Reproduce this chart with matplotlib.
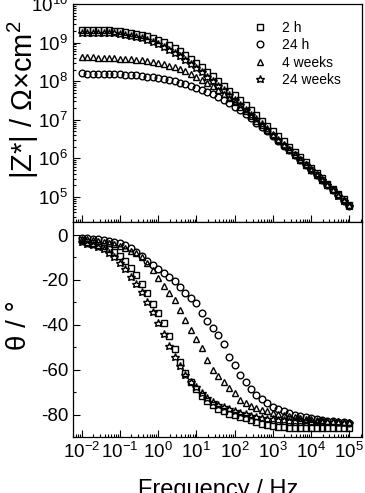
import matplotlib
matplotlib.use("Agg")
import matplotlib.pyplot as plt
from matplotlib.ticker import LogLocator, MultipleLocator, NullFormatter
import numpy as np

plt.rcParams['font.family'] = ['Liberation Sans', 'DejaVu Sans']
plt.rcParams['mathtext.fontset'] = 'custom'
plt.rcParams['mathtext.rm'] = 'Liberation Sans'
plt.rcParams['mathtext.it'] = 'Liberation Sans:italic'
plt.rcParams['mathtext.bf'] = 'Liberation Sans:bold'
plt.rcParams['axes.unicode_minus'] = False

# Frequency / Hz (7 points per decade)
freq = [0.01, 0.01389, 0.01931, 0.02683, 0.03728, 0.05179, 0.07197,
        0.1, 0.1389, 0.1931, 0.2683, 0.3728, 0.5179, 0.7197,
        1.0, 1.389, 1.931, 2.683, 3.728, 5.179, 7.197,
        10.0, 13.89, 19.31, 26.83, 37.28, 51.79, 71.97,
        100.0, 138.9, 193.1, 268.3, 372.8, 517.9, 719.7,
        1000.0, 1389.0, 1931.0, 2683.0, 3728.0, 5179.0, 7197.0,
        1.0e4, 1.389e4, 1.931e4, 2.683e4, 3.728e4, 5.179e4, 7.197e4,
        1.0e5]

labels = ["2 h", "24 h", "4 weeks", "24 weeks"]

# log10(|Z*| / Ohm cm^2)
logz_2h = [9.320, 9.325, 9.330, 9.330, 9.327, 9.318, 9.307, 9.293, 9.276, 9.255,
           9.230, 9.198, 9.161, 9.116, 9.064, 9.005, 8.939, 8.862, 8.777, 8.683,
           8.583, 8.476, 8.364, 8.249, 8.130, 8.008, 7.884, 7.759, 7.632, 7.504,
           7.375, 7.245, 7.113, 6.980, 6.846, 6.711, 6.576, 6.440, 6.304, 6.168,
           6.032, 5.895, 5.758, 5.621, 5.485, 5.348, 5.211, 5.075, 4.938, 4.802]
logz_24h = [8.200, 8.198, 8.195, 8.192, 8.189, 8.185, 8.181, 8.176, 8.170, 8.161,
            8.151, 8.137, 8.120, 8.101, 8.078, 8.052, 8.024, 7.993, 7.958, 7.919,
            7.876, 7.830, 7.778, 7.720, 7.657, 7.589, 7.515, 7.433, 7.344, 7.249,
            7.147, 7.040, 6.929, 6.815, 6.698, 6.577, 6.455, 6.331, 6.206, 6.079,
            5.952, 5.823, 5.694, 5.564, 5.433, 5.302, 5.171, 5.039, 4.906, 4.774]
logz_4w = [8.620, 8.617, 8.614, 8.610, 8.606, 8.601, 8.595, 8.588, 8.579, 8.569,
           8.557, 8.543, 8.525, 8.503, 8.475, 8.442, 8.403, 8.360, 8.310, 8.254,
           8.190, 8.120, 8.043, 7.959, 7.868, 7.770, 7.668, 7.562, 7.452, 7.338,
           7.220, 7.100, 6.978, 6.855, 6.731, 6.606, 6.480, 6.353, 6.225, 6.097,
           5.968, 5.839, 5.709, 5.578, 5.447, 5.316, 5.184, 5.052, 4.920, 4.788]
logz_24w = [9.250, 9.250, 9.250, 9.250, 9.250, 9.250, 9.245, 9.228, 9.205, 9.179,
            9.147, 9.109, 9.065, 9.014, 8.955, 8.890, 8.816, 8.733, 8.644, 8.548,
            8.447, 8.341, 8.232, 8.118, 8.002, 7.883, 7.762, 7.640, 7.516, 7.390,
            7.264, 7.137, 7.008, 6.879, 6.749, 6.619, 6.488, 6.357, 6.226, 6.095,
            5.963, 5.831, 5.700, 5.568, 5.435, 5.303, 5.171, 5.038, 4.906, 4.773]

# Phase angle / degree
theta_2h = [-2.4, -3.0, -3.6, -4.3, -5.1, -6.2, -7.6, -9.4, -11.8, -14.6,
            -17.8, -21.8, -25.8, -30.6, -34.6, -39.2, -45.0, -51.0, -56.6, -61.5,
            -65.5, -68.8, -71.7, -74.0, -75.9, -77.4, -78.6, -79.6, -80.3, -80.9,
            -81.6, -82.6, -83.5, -84.1, -84.6, -85.1, -85.4, -85.6, -85.8, -85.9,
            -86.0, -86.1, -86.2, -86.2, -86.2, -86.1, -86.1, -86.0, -86.0, -85.9]
theta_24h = [-1.3, -1.5, -1.7, -1.9, -2.1, -2.5, -3.0, -3.6, -4.5, -5.9,
             -7.7, -9.5, -11.4, -13.3, -15.3, -17.0, -18.7, -20.5, -23.3, -26.0,
             -28.0, -30.5, -34.8, -38.2, -41.3, -44.5, -48.5, -54.5, -58.0, -62.3,
             -65.6, -68.8, -71.2, -73.0, -74.8, -76.6, -77.6, -78.5, -79.3, -80.0,
             -80.6, -81.3, -81.7, -82.0, -82.4, -82.7, -83.0, -83.3, -83.5, -83.7]
theta_4w = [-1.6, -1.9, -2.2, -2.6, -3.0, -3.5, -4.1, -4.9, -5.8, -6.9,
            -8.1, -9.9, -12.6, -15.6, -19.3, -22.5, -25.7, -29.0, -33.5, -37.8,
            -42.2, -46.2, -50.4, -55.5, -60.0, -63.0, -65.6, -68.0, -70.4, -73.5,
            -75.0, -76.3, -77.2, -77.9, -78.6, -79.2, -79.7, -80.2, -80.6, -81.0,
            -81.4, -81.8, -82.1, -82.4, -82.6, -82.8, -83.0, -83.2, -83.3, -83.4]
theta_24w = [-3.0, -3.8, -4.6, -5.4, -6.4, -7.8, -9.8, -12.6, -15.2, -18.6,
             -21.8, -25.6, -30.0, -34.4, -39.0, -44.0, -49.3, -54.2, -58.3, -62.4,
             -65.6, -67.6, -70.2, -72.4, -74.2, -75.6, -76.8, -77.7, -78.5, -79.2,
             -79.9, -80.6, -81.3, -81.7, -82.0, -82.2, -82.4, -82.6, -82.7, -82.8,
             -82.9, -83.0, -83.1, -83.2, -83.3, -83.4, -83.5, -83.5, -83.6, -83.7]

W, H = 365, 493
fig = plt.figure(figsize=(W / 100, H / 100), dpi=100)

left, right = 73 / W, 362 / W
ax1 = fig.add_axes([left, 1 - 222 / H, right - left, (222 - 4) / H])
ax2 = fig.add_axes([left, 1 - 437 / H, right - left, (437 - 222) / H])

styles = [dict(marker='s', ms=4.4), dict(marker='o', ms=4.8),
          dict(marker='^', ms=5.0), dict(marker='*', ms=6.2)]
zsets = [logz_2h, logz_24h, logz_4w, logz_24w]
tsets = [theta_2h, theta_24h, theta_4w, theta_24w]

f = np.array(freq)
handles = []
for st, lz, th, lab in zip(styles, zsets, tsets, labels):
    h, = ax1.plot(f, 10 ** np.array(lz), linestyle='none', mfc='none', mec='black',
                  mew=1.0, label=lab, **st)
    ax2.plot(f, th, linestyle='none', mfc='none', mec='black', mew=1.0, **st)
    handles.append(h)

for ax in (ax1, ax2):
    ax.set_xscale('log')
    ax.set_xlim(10 ** -2.228, 10 ** 5.332)
    ax.xaxis.set_major_locator(LogLocator(base=10, numticks=20))
    ax.xaxis.set_minor_locator(LogLocator(base=10, subs=np.arange(2, 10), numticks=20))
    ax.xaxis.set_minor_formatter(NullFormatter())
    ax.tick_params(which='both', direction='in', top=False, right=False, width=0.8,
                   labelsize=13.5)
    ax.tick_params(which='major', length=5)
    ax.tick_params(which='minor', length=2.5)
    for sp in ax.spines.values():
        sp.set_linewidth(0.9)

ax1.set_yscale('log')
ax1.set_ylim(2.25e4, 1e10)
ax1.yaxis.set_major_locator(LogLocator(base=10, numticks=20))
ax1.yaxis.set_minor_locator(LogLocator(base=10, subs=np.arange(2, 10), numticks=20))
ax1.yaxis.set_minor_formatter(NullFormatter())
ax1.tick_params(labelbottom=False)

ax2.set_ylim(-90, 5.8)
ax2.yaxis.set_major_locator(MultipleLocator(20))
ax2.yaxis.set_minor_locator(MultipleLocator(10))

fig.text(6 / W, 1 - 100 / H, "|Z*| / \u03a9\u00d7cm$^{2}$", rotation=90,
         ha='left', va='center', fontsize=21)
fig.text(6 / W, 1 - 325 / H, "\u03b8 / \u00b0", rotation=90,
         ha='left', va='center', fontsize=20)
fig.text(218.5 / W, 1 - 479 / H, "Frequency / Hz", ha='center', va='top', fontsize=17)

fig.legend(handles=handles, labels=labels, loc='upper left',
           bbox_to_anchor=(253 / W, 1 - 20.5 / H), borderaxespad=0, borderpad=0,
           frameon=False, fontsize=10, handlelength=1.0, handletextpad=1.08,
           labelspacing=0.26)

fig.savefig("out.png", dpi=100)
